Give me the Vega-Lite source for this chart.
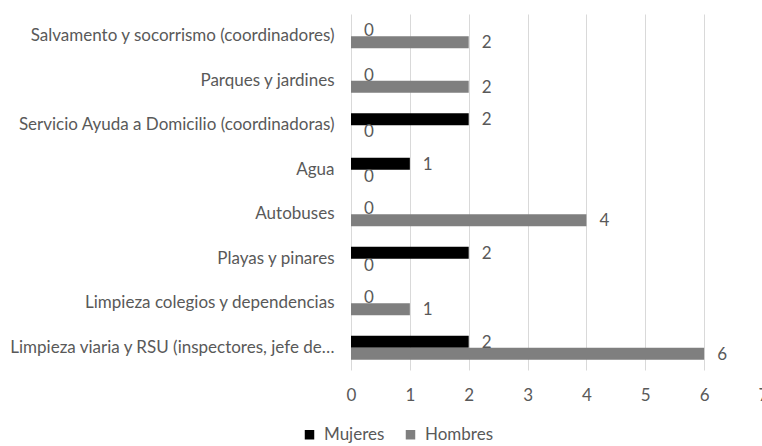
{
  "$schema": "https://vega.github.io/schema/vega-lite/v6.json",
  "autosize": {"type": "none"},
  "width": 412,
  "height": 356,
  "padding": {"left": 351, "top": 14, "right": 0, "bottom": 76},
  "background": "white",
  "config": {
    "font": "Lato",
    "view": {"stroke": null},
    "axis": {"labelColor": "#595959", "labelFontSize": 17, "labelFont": "Lato"}
  },
  "data": {
    "values": [
      {"Servicio": "Salvamento y socorrismo (coordinadores)", "Sexo": "Mujeres", "Valor": 0},
      {"Servicio": "Salvamento y socorrismo (coordinadores)", "Sexo": "Hombres", "Valor": 2},
      {"Servicio": "Parques y jardines", "Sexo": "Mujeres", "Valor": 0},
      {"Servicio": "Parques y jardines", "Sexo": "Hombres", "Valor": 2},
      {"Servicio": "Servicio Ayuda a Domicilio (coordinadoras)", "Sexo": "Mujeres", "Valor": 2},
      {"Servicio": "Servicio Ayuda a Domicilio (coordinadoras)", "Sexo": "Hombres", "Valor": 0},
      {"Servicio": "Agua", "Sexo": "Mujeres", "Valor": 1},
      {"Servicio": "Agua", "Sexo": "Hombres", "Valor": 0},
      {"Servicio": "Autobuses", "Sexo": "Mujeres", "Valor": 0},
      {"Servicio": "Autobuses", "Sexo": "Hombres", "Valor": 4},
      {"Servicio": "Playas y pinares", "Sexo": "Mujeres", "Valor": 2},
      {"Servicio": "Playas y pinares", "Sexo": "Hombres", "Valor": 0},
      {"Servicio": "Limpieza colegios y dependencias", "Sexo": "Mujeres", "Valor": 0},
      {"Servicio": "Limpieza colegios y dependencias", "Sexo": "Hombres", "Valor": 1},
      {"Servicio": "Limpieza viaria y RSU (inspectores, jefe de…", "Sexo": "Mujeres", "Valor": 2},
      {"Servicio": "Limpieza viaria y RSU (inspectores, jefe de…", "Sexo": "Hombres", "Valor": 6}
    ]
  },
  "encoding": {
    "y": {
      "field": "Servicio",
      "type": "nominal",
      "sort": null,
      "title": null,
      "scale": {"paddingInner": 0.46, "paddingOuter": 0.23},
      "axis": {"ticks": false, "domain": false, "labelPadding": 17, "labelLimit": 400}
    },
    "yOffset": {
      "field": "Sexo",
      "type": "nominal",
      "sort": ["Mujeres", "Hombres"],
      "scale": {"paddingInner": 0, "paddingOuter": 0}
    },
    "x": {
      "field": "Valor",
      "type": "quantitative",
      "title": null,
      "scale": {"domain": [0, 7]},
      "axis": {
        "values": [0, 1, 2, 3, 4, 5, 6, 7],
        "gridColor": "#d9d9d9",
        "domain": false,
        "ticks": false,
        "labelFlush": false,
        "labelPadding": 17
      }
    }
  },
  "layer": [
    {
      "mark": {"type": "bar"},
      "encoding": {
        "color": {
          "field": "Sexo",
          "type": "nominal",
          "sort": ["Mujeres", "Hombres"],
          "scale": {"domain": ["Mujeres", "Hombres"], "range": ["#000000", "#7f7f7f"]},
          "legend": {
            "title": null,
            "orient": "none",
            "direction": "horizontal",
            "legendX": -50,
            "legendY": 412,
            "symbolType": "square",
            "symbolSize": 90,
            "symbolStrokeWidth": 0,
            "labelFontSize": 17,
            "labelColor": "#595959",
            "labelFont": "Lato",
            "labelOffset": 6,
            "columnPadding": 17
          }
        }
      }
    },
    {
      "mark": {"type": "text", "align": "left", "baseline": "middle", "dx": 13, "dy": 1, "fontSize": 17, "color": "#595959"},
      "encoding": {"text": {"field": "Valor", "type": "quantitative"}}
    }
  ]
}
